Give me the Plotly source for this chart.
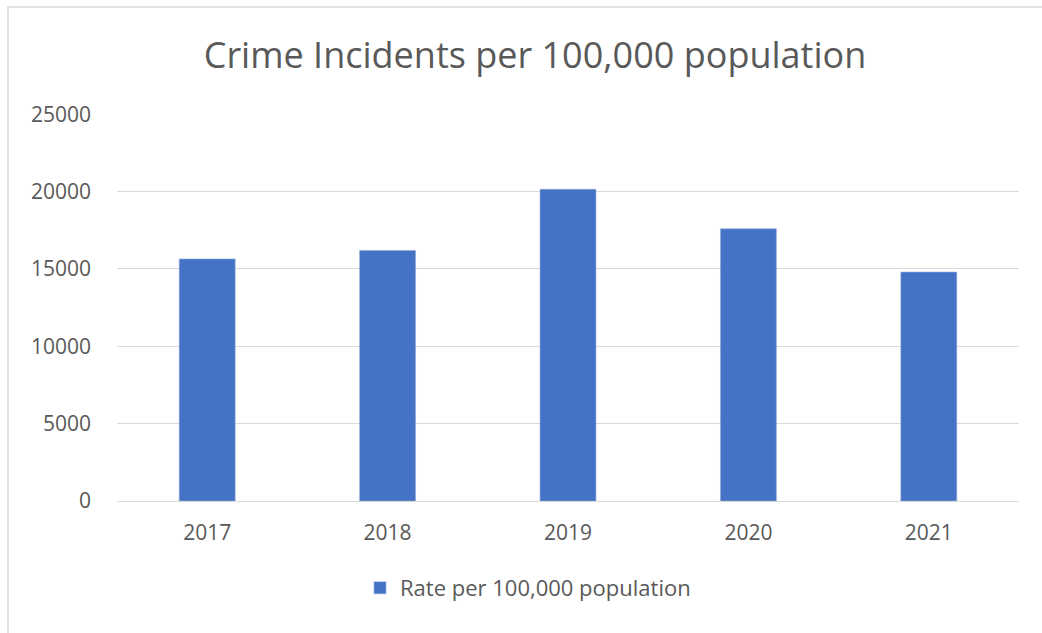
import plotly.graph_objects as go

# Annual crime rate data
years = ["2017", "2018", "2019", "2020", "2021"]
rates = [15650, 16200, 20150, 17600, 14800]
y_ticks = [0, 5000, 10000, 15000, 20000, 25000]

W, H = 1042, 633
L, R, T, B = 117, 23, 114, 132
pw, ph = W - L - R, H - T - B

def px_x(x):
    return (x - L) / pw

def px_y(y):
    return (H - B - y) / ph

fig = go.Figure(
    go.Bar(
        x=years,
        y=rates,
        name="Rate per 100,000 population",
        marker=dict(color="#4472C4", line=dict(color="#8fa9dc", width=0.6)),
    )
)

fig.update_layout(
    width=W,
    height=H,
    margin=dict(l=L, r=R, t=T, b=B),
    paper_bgcolor="white",
    plot_bgcolor="white",
    bargap=0.69,
    font=dict(family="Open Sans, Segoe UI, sans-serif", color="#595959"),
    title=dict(
        text="Crime Incidents per 100,000 population",
        xref="container",
        x=535 / W,
        xanchor="center",
        y=1 - 55 / H,
        yanchor="middle",
        font=dict(size=36, color="#595959"),
    ),
    xaxis=dict(
        showgrid=False,
        showline=True,
        linecolor="#d9d9d9",
        linewidth=1,
        ticks="",
        ticklabelstandoff=13,
        tickfont=dict(size=21, color="#595959"),
    ),
    yaxis=dict(
        range=[0, 25020],
        tickvals=y_ticks,
        ticktext=[str(v) for v in y_ticks],
        showgrid=True,
        gridcolor="#d9d9d9",
        gridwidth=1,
        zeroline=False,
        showline=False,
        ticks="",
        ticklabelstandoff=25,
        tickfont=dict(size=21, color="#595959"),
    ),
    showlegend=True,
    legend=dict(
        orientation="h",
        x=px_x(528),
        xanchor="center",
        y=px_y(588),
        yanchor="middle",
        itemwidth=30,
        font=dict(size=22, color="#595959"),
    ),
    shapes=[
        dict(
            type="rect",
            xref="paper",
            yref="paper",
            x0=px_x(8),
            x1=px_x(1046),
            y0=px_y(640),
            y1=px_y(7),
            line=dict(color="#d9d9d9", width=1.5),
            fillcolor="rgba(0,0,0,0)",
            layer="below",
        )
    ],
)

fig.write_html("out.html")
